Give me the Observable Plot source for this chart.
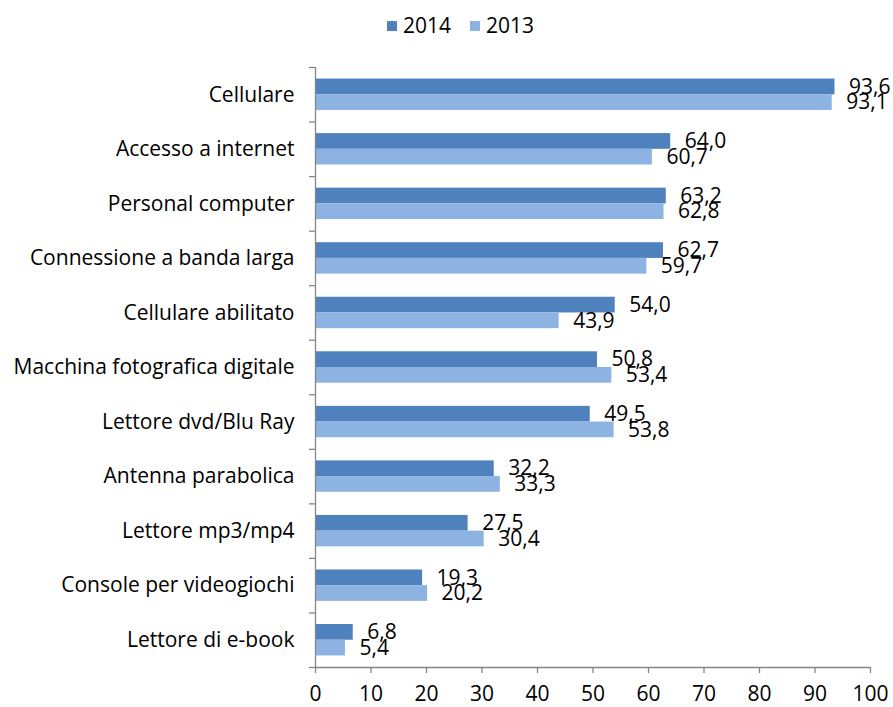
<!DOCTYPE html>
<html><head><meta charset="utf-8">
<script src="https://cdn.jsdelivr.net/npm/d3@7"></script>
<script src="https://cdn.jsdelivr.net/npm/@observablehq/plot@0.6"></script>
<style>
body{margin:0;background:#fff;font-family:"Open Sans",sans-serif;}
#wrap{position:relative;width:893px;height:707px;}
#legend{position:absolute;top:10px;left:387px;font-size:21px;line-height:30px;color:#000;white-space:nowrap;}
#legend span.sw{display:inline-block;width:10px;height:10px;margin-right:6px;vertical-align:2px;}
#legend span.it{margin-right:19px;}
</style></head>
<body>
<div id="wrap"><div id="legend"></div><div id="chart"></div></div>
<script>
const categories = ["Cellulare","Accesso a internet","Personal computer","Connessione a banda larga","Cellulare abilitato","Macchina fotografica digitale","Lettore dvd/Blu Ray","Antenna parabolica","Lettore mp3/mp4","Console per videogiochi","Lettore di e-book"];
const v2014 = [93.6,64.0,63.2,62.7,54.0,50.8,49.5,32.2,27.5,19.3,6.8];
const v2013 = [93.1,60.7,62.8,59.7,43.9,53.4,53.8,33.3,30.4,20.2,5.4];
const series = ["2014","2013"];
const colors = ["#4F81BD","#8DB3E2"];
const xTicks = [0,10,20,30,40,50,60,70,80,90,100];

const half = 0.288;
const rows = [];
categories.forEach((c,i)=>{
  rows.push({cat:c, year:"2014", v:v2014[i], y1:i+0.5-half, y2:i+0.5});
  rows.push({cat:c, year:"2013", v:v2013[i], y1:i+0.5, y2:i+0.5+half});
});
const fmt = v => v.toFixed(1).replace(".", ",");

document.getElementById("legend").innerHTML = series.map((s,k)=>
  `<span class="it"><span class="sw" style="background:${colors[k]}"></span>${s}</span>`).join("");

const axisColor = "#868686";
const FS = 21;
const chart = Plot.plot({
  width: 893, height: 707,
  marginLeft: 315, marginRight: 23, marginTop: 67, marginBottom: 40,
  style: {fontFamily: "Open Sans, sans-serif", fontSize: FS + "px", color: "#000", background: "#fff"},
  x: {domain: [0,100], label: null},
  y: {domain: [0, categories.length], reverse: true, label: null},
  color: {domain: series, range: colors},
  marks: [
    Plot.rectX(rows, {x1: 0, x2: "v", y1: "y1", y2: "y2", fill: "year"}),
    Plot.text(rows, {x: "v", y: d => (d.y1+d.y2)/2, text: d => fmt(d.v), textAnchor: "start", dx: 14, fill: "#000", fontSize: FS}),
    Plot.ruleX([0], {stroke: axisColor, strokeWidth: 1.3}),
    Plot.ruleY([categories.length], {stroke: axisColor, strokeWidth: 1.3}),
    Plot.axisY(d3.range(categories.length+1), {tickSize: 6, tickFormat: () => "", stroke: axisColor, strokeWidth: 1.3, label: null}),
    Plot.axisY(d3.range(categories.length).map(i=>i+0.5), {tickSize: 0, tickPadding: 21, tickFormat: d => categories[Math.floor(d)], fontSize: FS, fill:"#000", label: null}),
    Plot.axisX(xTicks, {tickSize: 6, tickPadding: 13, stroke: axisColor, strokeWidth: 1.3, fontSize: FS, fill: "#000", tickFormat: d => String(d), label: null})
  ]
});
document.getElementById("chart").appendChild(chart);
</script>
</body></html>
